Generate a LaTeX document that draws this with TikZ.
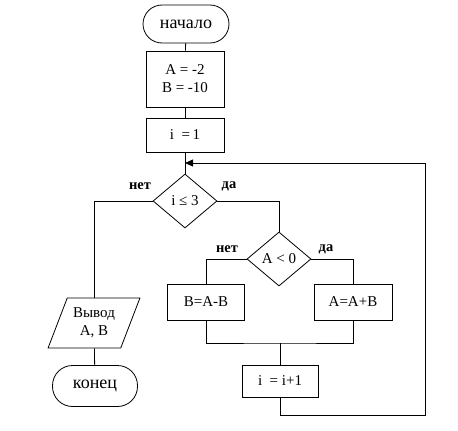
\documentclass[tikz,border=0pt]{standalone}
\usepackage{fontspec}
\setmainfont{Liberation Serif}
\usetikzlibrary{shapes.geometric,arrows.meta}

\tikzset{
  term/.style={draw, rounded corners=19pt, minimum width=86pt, minimum height=38pt, font=\fontsize{18}{20}\selectfont},
  proc/.style={draw, rectangle, minimum width=78pt, minimum height=34pt, align=center},
  cond/.style={draw, diamond, minimum width=64pt, minimum height=54pt, inner sep=0pt},
  iobox/.style={draw, trapezium, trapezium left angle=64, trapezium right angle=116, trapezium stretches=true, minimum width=92pt, minimum height=50pt, align=center, inner sep=1pt},
  lbl/.style={font=\fontsize{14.5}{16}\selectfont\bfseries}
}

\begin{document}
\begin{tikzpicture}[x=1pt, y=-1pt, line width=0.8pt, font=\fontsize{15}{18}\selectfont]
    \useasboundingbox (0,0) rectangle (458,431);

    % --- main column ---
    \node[term] (start) at (186,24) {начало};
    \node[proc, minimum height=56pt] (init) at (185,79) {A = -2\\B = -10};
    \node[proc] (seti) at (185,135) {i \ =\,1};
    \node[cond] (cond1) at (185,201) {i ≤ 3};

    % --- loop body ---
    \node[cond] (cond2) at (279,259) {A < 0};
    \node[proc, minimum width=77pt, minimum height=36pt] (subB) at (206,302) {B=A-B};
    \node[proc, minimum height=36pt] (addA) at (353,302) {A=A+B};
    \node[proc, minimum width=76pt, minimum height=32pt] (inc) at (280,381) {i \ = i+1};

    % --- exit ---
    \node[iobox] (out) at (94,323) {Вывод\\A, B};
    \node[term, minimum width=85pt, minimum height=41pt, rounded corners=20pt] (finish) at (95,386) {конец};

    % --- branch labels ---
    \node[lbl] (no1) at (140,186) {нет};
    \node[lbl] (yes1) at (229,186) {да};
    \node[lbl] (no2) at (227,249) {нет};
    \node[lbl] (yes2) at (326,249) {да};

    % --- connectors ---
    \draw (start) -- (init);
    \draw (init) -- (seti);
    \draw (seti) -- (cond1);
    \draw (cond1.west) -| (out.north);
    \draw (out) -- (finish);
    \draw (cond1.east) -| (cond2.north);
    \draw (cond2.west) -| (subB.north);
    \draw (cond2.east) -| (addA.north);

    \coordinate (join) at (280,343);
    \draw (subB.south) |- (join) -| (addA.south);
    \draw (join) -- (inc);

    % --- back edge of the loop ---
    \coordinate (rtc) at (425,415);
    \coordinate (back) at (185,163);
    \draw[-{Triangle[length=8pt,width=7pt]}] (inc.south) |- (rtc) |- (back);
\end{tikzpicture}
\end{document}
